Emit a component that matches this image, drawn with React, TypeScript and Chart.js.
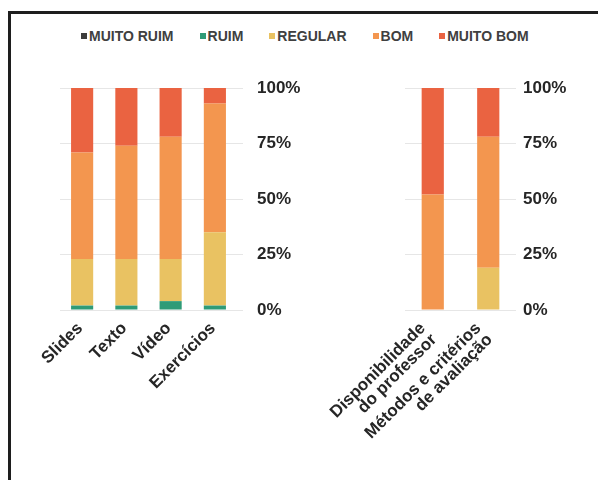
import React, { useEffect, useRef } from "react";
import { Chart, registerables } from "chart.js";

Chart.register(...registerables);

const seriesNames = ["MUITO RUIM", "RUIM", "REGULAR", "BOM", "MUITO BOM"];
const seriesColors = ["#3c3c3c", "#2f9b77", "#e9c262", "#f3964f", "#ea6341"];

const leftCategories = ["Slides", "Texto", "Vídeo", "Exercícios"];
const leftMuitoRuim = [0, 0, 0, 0];
const leftRuim = [2, 2, 4, 2];
const leftRegular = [21, 21, 19, 33];
const leftBom = [48, 51, 55, 58];
const leftMuitoBom = [29, 26, 22, 7];

const rightCategories = [
  ["Disponibilidade", "do professor"],
  ["Métodos e critérios", "de avaliação"],
];
const rightMuitoRuim = [0, 0];
const rightRuim = [0, 0];
const rightRegular = [0, 19];
const rightBom = [52, 59];
const rightMuitoBom = [48, 22];

const yTickValues = [0, 25, 50, 75, 100];

const FONT = "'Liberation Sans', Arial, sans-serif";
const TEXT = "#262626";

type PanelProps = {
  categories: any[];
  series: number[][];
  width: number;
  height: number;
  padLeft: number;
  yWidth: number;
  yPad: number;
  tickLen: number;
  barPct: number;
  labelOffset: number;
};

function Panel(p: PanelProps) {
  const ref = useRef<HTMLCanvasElement | null>(null);
  useEffect(() => {
    if (!ref.current) return;
    const chart = new Chart(ref.current, {
      type: "bar",
      data: {
        labels: p.categories,
        datasets: seriesNames.map((name, i) => ({
          label: name,
          data: p.series[i],
          backgroundColor: seriesColors[i],
          borderWidth: 0,
          barPercentage: p.barPct,
          categoryPercentage: 1,
        })),
      },
      options: {
        responsive: false,
        animation: false,
        layout: { padding: { left: p.padLeft, top: 28, right: 0, bottom: 0 } },
        plugins: { legend: { display: false }, tooltip: { enabled: false } },
        scales: {
          x: {
            stacked: true,
            grid: { display: false },
            border: { display: false },
            ticks: {
              autoSkip: false,
              minRotation: 45,
              maxRotation: 45,
              padding: 2,
              labelOffset: p.labelOffset,
              color: TEXT,
              font: { family: FONT, size: 17, weight: "bold", lineHeight: 0.95 },
            },
            afterFit: (s: any) => {
              s.height = 150;
            },
          },
          y: {
            stacked: true,
            position: "right",
            min: 0,
            max: 100,
            border: { display: false },
            grid: {
              color: "#e6e6e6",
              drawTicks: p.tickLen > 0,
              tickLength: p.tickLen,
            },
            afterBuildTicks: (s: any) => {
              s.ticks = yTickValues.map((v) => ({ value: v }));
            },
            ticks: {
              padding: p.yPad,
              color: TEXT,
              font: { family: FONT, size: 17, weight: "bold" },
              callback: (v: any) => v + "%",
            },
            afterFit: (s: any) => {
              s.width = p.yWidth;
            },
          },
        },
      },
    } as any);
    return () => chart.destroy();
  }, []);
  return <canvas ref={ref} width={p.width} height={p.height} />;
}

export default function App() {
  const legendItems = seriesNames.map((n, i) => (
    <div key={n} style={{ display: "flex", alignItems: "center" }}>
      <span
        style={{
          display: "inline-block",
          width: 6,
          height: 6,
          background: seriesColors[i],
          marginRight: 2,
        }}
      />
      <span>{n}</span>
    </div>
  ));
  return (
    <div style={{ position: "absolute", left: 0, top: 0, width: 598, height: 480, background: "#fff", overflow: "hidden" }}>
      <div
        style={{
          position: "absolute",
          left: 8,
          top: 11,
          width: 600,
          height: 480,
          borderLeft: "3px solid #1e1e1e",
          borderTop: "3px solid #1e1e1e",
        }}
      />
      <div
        style={{
          position: "absolute",
          left: 81,
          top: 27,
          display: "flex",
          gap: 26,
          fontFamily: FONT,
          fontWeight: "bold",
          fontSize: 14,
          color: "#404040",
          whiteSpace: "nowrap",
          lineHeight: "18px",
        }}
      >
        {legendItems}
      </div>
      <div style={{ position: "absolute", left: 10, top: 60 }}>
        <Panel
          categories={leftCategories}
          series={[leftMuitoRuim, leftRuim, leftRegular, leftBom, leftMuitoBom]}
          width={300}
          height={400}
          padLeft={50}
          yWidth={73}
          yPad={14}
          tickLen={6}
          barPct={0.5}
          labelOffset={-2}
        />
      </div>
      <div style={{ position: "absolute", left: 310, top: 60 }}>
        <Panel
          categories={rightCategories}
          series={[rightMuitoRuim, rightRuim, rightRegular, rightBom, rightMuitoBom]}
          width={288}
          height={400}
          padLeft={95}
          yWidth={82}
          yPad={7}
          tickLen={0}
          barPct={0.4}
          labelOffset={-10}
        />
      </div>
    </div>
  );
}
